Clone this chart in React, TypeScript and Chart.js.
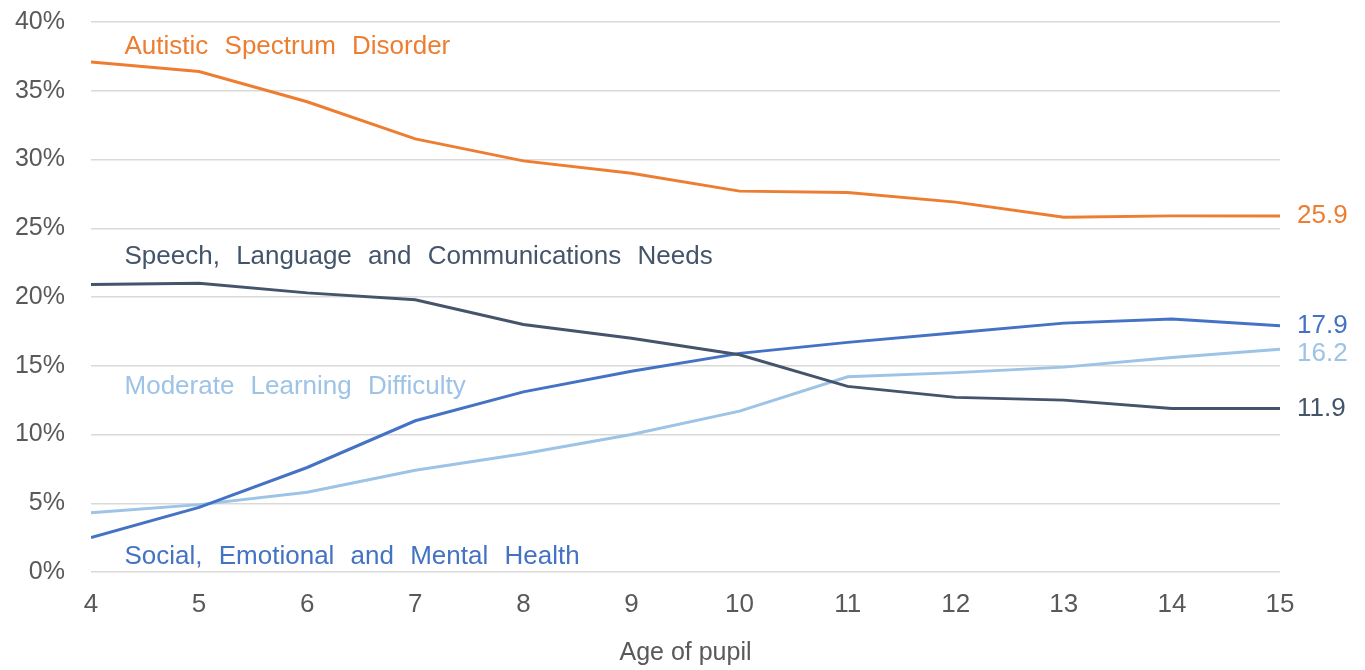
import React, { useEffect, useRef } from 'react';
import { Chart, registerables } from 'chart.js';

Chart.register(...registerables);

// ---- data ----
const ages = [4, 5, 6, 7, 8, 9, 10, 11, 12, 13, 14, 15];
const autistic = [37.1, 36.4, 34.2, 31.5, 29.9, 29.0, 27.7, 27.6, 26.9, 25.8, 25.9, 25.9];
const speech = [20.9, 21.0, 20.3, 19.8, 18.0, 17.0, 15.8, 13.5, 12.7, 12.5, 11.9, 11.9];
const social = [2.5, 4.7, 7.6, 11.0, 13.1, 14.6, 15.9, 16.7, 17.4, 18.1, 18.4, 17.9];
const moderate = [4.3, 4.9, 5.8, 7.4, 8.6, 10.0, 11.7, 14.2, 14.5, 14.9, 15.6, 16.2];
const seriesNames = [
  'Autistic Spectrum Disorder',
  'Speech, Language and Communications Needs',
  'Social, Emotional and Mental Health',
  'Moderate Learning Difficulty',
];
const endLabels = ['25.9', '11.9', '17.9', '16.2'];
const yTickValues = [0, 5, 10, 15, 20, 25, 30, 35, 40];
const xTitle = 'Age of pupil';

// ---- styling / placement ----
const colors = ['#ED7D31', '#44546A', '#4472C4', '#9DC3E6'];
const nameAnchorX = 4.31;
const nameAnchorY = [38.2, 22.9, 1.1, 13.5];
const endLabelNudge = [0, 0, 0, 5];
const FONT = '"Liberation Sans", Arial, sans-serif';

const seriesList = [autistic, speech, social, moderate];

const labelPlugin = {
  id: 'seriesLabels',
  afterDatasetsDraw(chart: any) {
    const { ctx, scales } = chart;
    const x = scales.x;
    const y = scales.y;
    ctx.save();
    ctx.font = `26px ${FONT}`;
    ctx.textBaseline = 'middle';
    ctx.textAlign = 'left';
    try { (ctx as any).wordSpacing = '9px'; } catch (e) {}
    seriesNames.forEach((n, i) => {
      ctx.fillStyle = colors[i];
      ctx.fillText(n, x.getPixelForValue(nameAnchorX), y.getPixelForValue(nameAnchorY[i]));
    });
    try { (ctx as any).wordSpacing = '0px'; } catch (e) {}
    seriesList.forEach((s, i) => {
      ctx.fillStyle = colors[i];
      const lastX = ages[ages.length - 1];
      ctx.fillText(
        endLabels[i],
        x.getPixelForValue(lastX) + 17,
        y.getPixelForValue(s[s.length - 1]) + endLabelNudge[i]
      );
    });
    ctx.restore();
  },
};

export default function App() {
  const ref = useRef<HTMLCanvasElement | null>(null);

  useEffect(() => {
    if (!ref.current) return;
    const chart = new Chart(ref.current, {
      type: 'line',
      data: {
        datasets: seriesList.map((s, i) => ({
          label: seriesNames[i],
          data: ages.map((a, j) => ({ x: a, y: s[j] })),
          borderColor: colors[i],
          backgroundColor: colors[i],
          borderWidth: 3,
          pointRadius: 0,
          tension: 0,
          fill: false,
        })),
      },
      options: {
        responsive: false,
        animation: false,
        devicePixelRatio: 1,
        layout: { padding: { top: 22, right: 85, bottom: 0, left: 0 } },
        plugins: {
          legend: { display: false },
          tooltip: { enabled: false },
        },
        scales: {
          x: {
            type: 'linear',
            min: 4,
            max: 15,
            afterFit: (scale: any) => {
              scale.height = 98;
              scale.paddingLeft = 0;
              scale.paddingRight = 0;
            },
            ticks: {
              stepSize: 1,
              padding: 17,
              color: '#595959',
              font: { family: FONT, size: 26 },
            },
            grid: { display: false, drawTicks: false },
            border: { display: false },
            title: {
              display: true,
              text: xTitle,
              color: '#595959',
              font: { family: FONT, size: 25 },
              padding: { top: 0, bottom: 2 },
            },
          },
          y: {
            min: 0,
            max: 40,
            afterFit: (scale: any) => {
              scale.width = 91;
              scale.paddingTop = 0;
              scale.paddingBottom = 0;
            },
            afterBuildTicks: (scale: any) => {
              scale.ticks = yTickValues.map((v) => ({ value: v }));
            },
            ticks: {
              padding: 26,
              color: '#595959',
              font: { family: FONT, size: 25 },
              callback: (v: any) => `${v}%`,
            },
            grid: { color: '#d9d9d9', lineWidth: 1.5, drawTicks: false },
            border: { display: false },
          },
        },
      },
      plugins: [labelPlugin],
    });
    return () => chart.destroy();
  }, []);

  return (
    <div style={{ position: 'absolute', left: 0, top: 0, width: 1365, height: 670, background: '#fff' }}>
      <canvas ref={ref} width={1365} height={670} style={{ display: 'block' }} />
    </div>
  );
}
